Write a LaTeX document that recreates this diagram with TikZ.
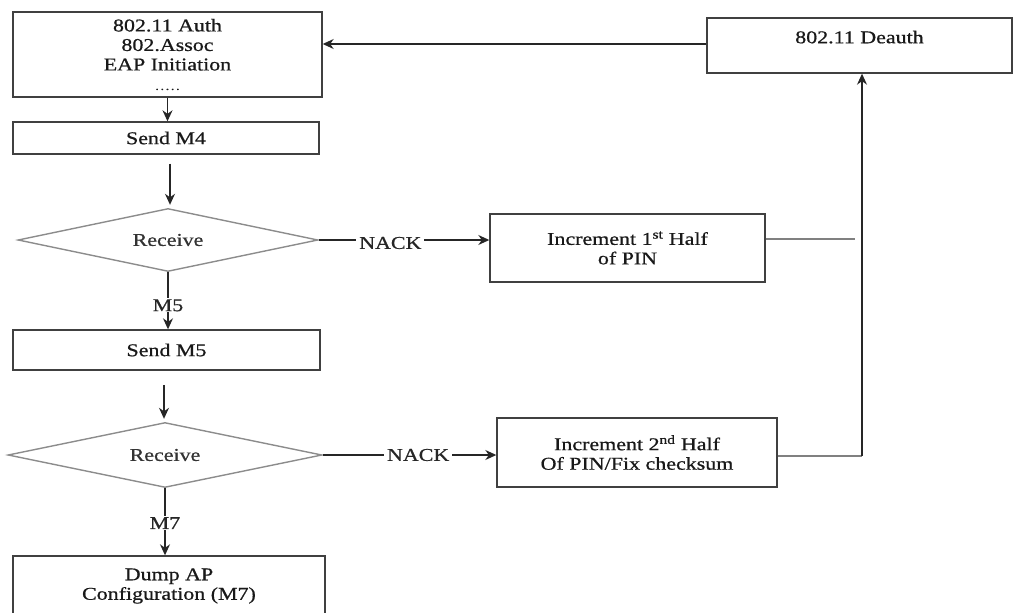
\documentclass[tikz,border=0pt]{standalone}
\usepackage{fontspec}
\setmainfont{Liberation Serif}[FakeStretch=1.22,FakeBold=0.7]
\usetikzlibrary{shapes.geometric,arrows.meta,calc}
\newcommand\fs{\fontsize{18}{19.5}\selectfont}
\begin{document}
\begin{tikzpicture}[x=1pt,y=-1pt,
  box/.style={draw=black!75, line width=1.4pt, fill=white, inner sep=2pt, align=center, font=\fs, text=black!90},
  dia/.style={draw=black!45, line width=1.4pt, shape=diamond, shape aspect=4.8, inner sep=0pt, font=\fs, text=black!80},
  arr/.style={-{Stealth[length=11pt,width=10pt]}, line width=1.3pt, draw=black!85},
  ln/.style={line width=1.3pt, draw=black!50},
  lab/.style={fill=white, inner sep=3pt, font=\fs, text=black!85}]
\useasboundingbox (0,0) rectangle (1015,613);
\node[box, minimum width=309pt, minimum height=85pt] (auth) at (167.5,54.5) {802.11 Auth\\802.Assoc\\EAP Initiation\\{\fontsize{11}{11}\selectfont .\,.\,.\,.\,.}};
\node[box, minimum width=306pt, minimum height=32pt] (m4) at (166,138) {Send M4};
\node[dia, minimum width=300pt, minimum height=63pt] (d1) at (168,240) {Receive};
\node[box, minimum width=275pt, minimum height=68pt] (b3) at (627.5,248) {Increment 1\textsuperscript{st} Half\\of PIN};
\node[box, minimum width=305pt, minimum height=55pt, text depth=17pt] (de) at (859.5,45.5) {802.11 Deauth};
\node[box, minimum width=307pt, minimum height=40pt] (m5) at (166.5,350) {Send M5};
\node[dia, minimum width=314pt, minimum height=65pt] (d2) at (165,455) {Receive};
\node[box, minimum width=280pt, minimum height=69pt] (b4) at (637,452.5) {Increment 2\textsuperscript{nd} Half\\Of PIN/Fix checksum};
\node[box, minimum width=312pt, minimum height=60pt] (b5) at (169,586) {Dump AP\\Configuration (M7)};

\coordinate (j1) at (855,239);
\coordinate (j2) at (862,456);

\draw[arr] (de.west |- 0,44) -- (auth.east |- 0,44);
\draw[arr] (auth.south) -- (auth.south |- m4.north);
\draw[arr] ($(m4.south)+(4,9)$) -- ($(d1.north)+(2,-3)$);
\draw[arr] (d1.east) -- node[lab, pos=0.42, yshift=-3pt]{NACK} (d1.east -| b3.west);
\draw[ln] (b3.east |- j1) -- (j1);
\draw[ln] (b4.east |- j2) -- (j2);
\draw[arr] (j2) -- (j2 |- de.south);
\draw[arr] (d1.south) -- node[lab, pos=0.58, inner sep=1pt]{M5} (d1.south |- m5.north);
\draw[arr] ($(d2.north)+(-1,-37)$) -- ($(d2.north)+(-1,-3)$);
\draw[arr] (d2.east) -- node[lab, pos=0.55]{NACK} (d2.east -| b4.west);
\draw[arr] (d2.south) -- node[lab, pos=0.52, inner sep=1pt]{M7} (d2.south |- b5.north);
\end{tikzpicture}
\end{document}
